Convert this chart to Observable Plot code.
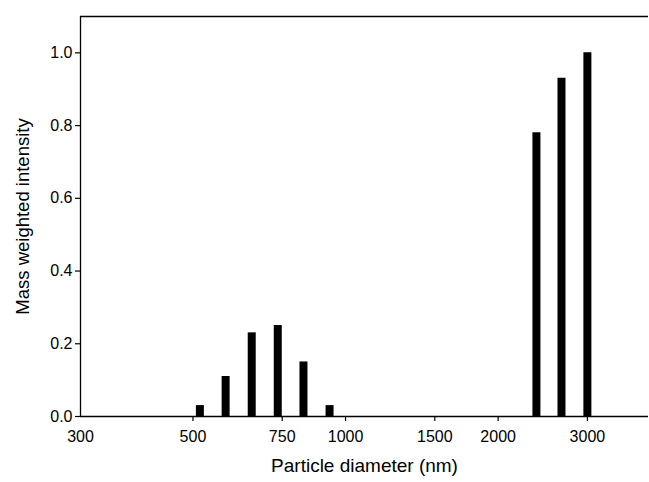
<!DOCTYPE html>
<html>
<head>
<meta charset="utf-8">
<script src="https://cdn.jsdelivr.net/npm/d3@7"></script>
<script src="https://cdn.jsdelivr.net/npm/@observablehq/plot@0.6"></script>
<style>
  html, body { margin: 0; padding: 0; background: #fff; }
</style>
</head>
<body>
<div id="chart"></div>
<script>
// Particle diameters (nm) of each bin (log-spaced bins)
const diameters = [516, 580, 653, 735, 826, 930, 2380, 2667, 3000];
// Mass weighted intensity of each bin
const intensities = [0.03, 0.11, 0.23, 0.25, 0.15, 0.03, 0.78, 0.93, 1.0];
// Axis tick values
const xTicks = [300, 500, 750, 1000, 1500, 2000, 3000];
const yTicks = [0, 0.2, 0.4, 0.6, 0.8, 1.0];
const xLabel = "Particle diameter (nm)";
const yLabel = "Mass weighted intensity";

const data = diameters.map((d, i) => ({diameter: d, intensity: intensities[i]}));

const chart = Plot.plot({
  width: 649,
  height: 482,
  marginLeft: 80,
  marginRight: 1,
  marginTop: 16,
  marginBottom: 66,
  style: {fontFamily: "'Liberation Sans', Arial, sans-serif", fontSize: "16px", color: "#000", background: "#fff"},
  x: {type: "log", domain: [300, 3960]},
  y: {domain: [0, 1.1]},
  marks: [
    Plot.ruleX(data, {x: "diameter", y1: 0, y2: "intensity", stroke: "#000", strokeWidth: 8}),
    Plot.axisX({ticks: xTicks.filter(d => d > 300), tickSize: 5, text: null, label: null, stroke: "#000", strokeWidth: 1.2}),
    Plot.axisX({ticks: xTicks, tickSize: 0, tickPadding: 14, tickFormat: d => String(d), label: null, fontSize: 16}),
    Plot.axisY({ticks: yTicks, tickSize: 5, tickPadding: 3, tickFormat: d3.format(".1f"), label: null, fontSize: 16, stroke: "#000", strokeWidth: 1.2}),
    Plot.ruleY([0], {stroke: "#000", strokeWidth: 1.3}),
    Plot.ruleY([1.1], {stroke: "#000", strokeWidth: 1.3}),
    Plot.ruleX([300], {stroke: "#000", strokeWidth: 1.3}),
    Plot.text([xLabel], {frameAnchor: "bottom", dy: 55, fontSize: 19, fill: "#000"}),
    Plot.text([yLabel], {frameAnchor: "left", textAnchor: "middle", dx: -57, rotate: -90, fontSize: 18.5, fill: "#000"})
  ]
});
document.getElementById("chart").appendChild(chart);
</script>
</body>
</html>
